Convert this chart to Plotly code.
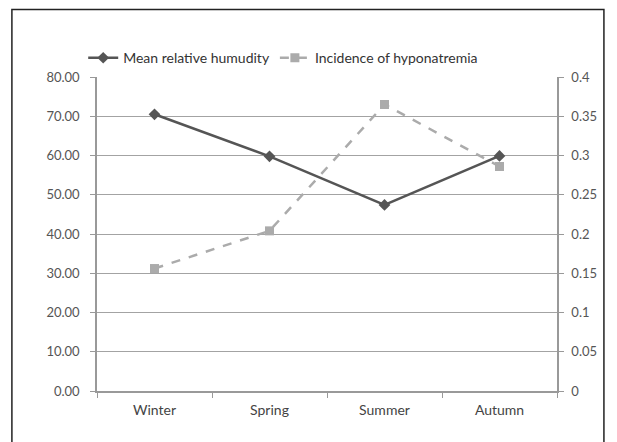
import plotly.graph_objects as go

seasons = ["Winter", "Spring", "Summer", "Autumn"]
humidity = [70.5, 59.8, 47.4, 59.9]
hyponatremia = [0.156, 0.204, 0.365, 0.286]

font_family = "Lato, 'Open Sans', sans-serif"

fig = go.Figure()
fig.add_trace(go.Scatter(
    x=seasons, y=humidity, name="Mean relative humudity",
    mode="lines+markers",
    line=dict(color="#555555", width=2.5),
    marker=dict(symbol="diamond", size=9, color="#555555"),
))
fig.add_trace(go.Scatter(
    x=seasons, y=hyponatremia, name="Incidence of hyponatremia", yaxis="y2",
    mode="lines+markers",
    line=dict(color="#ababab", width=2.5, dash="dash"),
    marker=dict(symbol="square", size=9, color="#ababab"),
))

fig.update_layout(
    width=609, height=434,
    margin=dict(l=89, r=60, t=69, b=51),
    paper_bgcolor="white", plot_bgcolor="white",
    font=dict(family=font_family, size=13, color="#444444"),
    showlegend=True,
    legend=dict(orientation="h", x=-0.03, xanchor="left", y=1.06, yanchor="middle",
                font=dict(size=14, color="#333333"), traceorder="normal"),
    xaxis=dict(type="category", range=[-0.5, 3.5], tickson="boundaries",
               ticks="outside", ticklen=5, tickcolor="#999999",
               showline=True, linecolor="#999999", linewidth=1.5,
               ticklabelstandoff=5,
               showgrid=False, tickfont=dict(size=14, color="#444444")),
    yaxis=dict(range=[0, 80], dtick=10, tickformat=".2f",
               ticks="outside", ticklen=5, tickcolor="#999999",
               showline=True, linecolor="#999999", linewidth=1.5,
               ticklabelstandoff=8,
               showgrid=True, gridcolor="#a3a3a3", gridwidth=1.2,
               zeroline=False, tickfont=dict(size=13, color="#555555")),
    yaxis2=dict(range=[0, 0.4], dtick=0.05, overlaying="y", side="right",
                ticks="outside", ticklen=5, tickcolor="#999999",
                showline=True, linecolor="#999999", linewidth=1.5,
                ticklabelstandoff=5,
                showgrid=False, zeroline=False,
                tickfont=dict(size=13, color="#555555")),
)

fig.add_shape(type="rect", xref="paper", yref="paper",
              x0=-0.185, x1=1.102, y0=-0.25, y1=1.215,
              line=dict(color="#222222", width=1.5), fillcolor="rgba(0,0,0,0)",
              layer="below")

fig.write_html("out.html")
